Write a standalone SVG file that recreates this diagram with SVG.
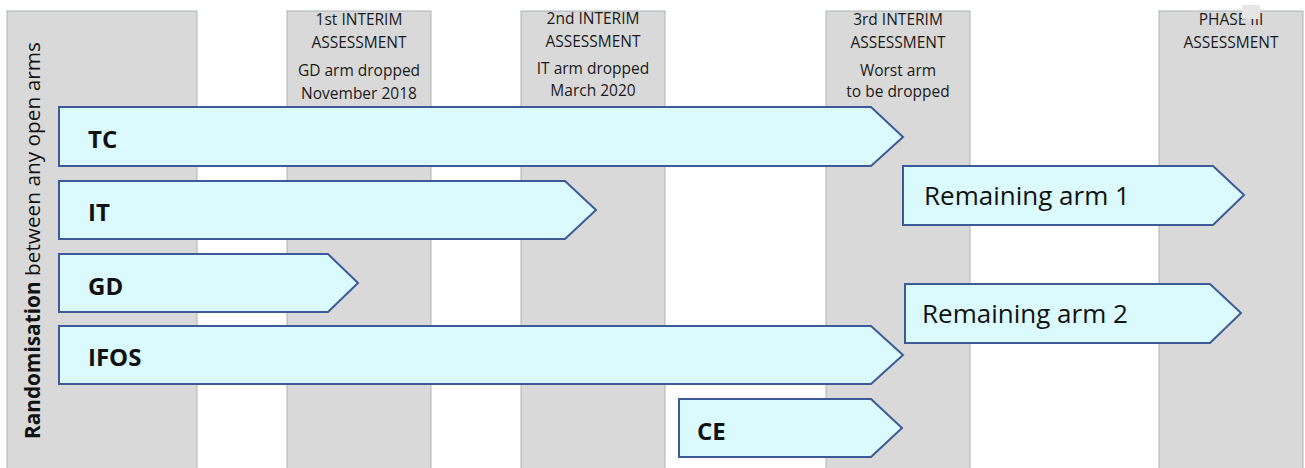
<svg xmlns="http://www.w3.org/2000/svg" width="1305" height="468" viewBox="0 0 1305 468">
<style>
.col{fill:#d9d9d9;stroke:#a9b4b8;stroke-width:1}
.arm{fill:#dbfafd;stroke:#3d5a96;stroke-width:2;stroke-linejoin:miter}
.hd{font-family:"Open Sans","Liberation Sans",sans-serif;font-size:15.5px;fill:#1a1a1a;text-anchor:middle}
.lb{font-family:"Open Sans","Liberation Sans",sans-serif;font-size:24px;font-weight:bold;fill:#111}
.lr{font-family:"Open Sans","Liberation Sans",sans-serif;font-size:26px;fill:#111}
.vt{font-family:"Open Sans","Liberation Sans",sans-serif;font-size:20.8px;fill:#111}
</style>
<rect width="1305" height="468" fill="#ffffff"/>
<g id="columns">
<rect class="col" x="7" y="11" width="190" height="462"/>
<rect class="col" x="287" y="11" width="144" height="462"/>
<rect class="col" x="521" y="11" width="144" height="462"/>
<rect class="col" x="826" y="11" width="144" height="462"/>
<rect class="col" x="1159" y="11" width="144" height="462"/>
</g>
<g id="headers">
<text class="hd" x="359" y="25">1st INTERIM</text>
<text class="hd" x="359" y="48">ASSESSMENT</text>
<text class="hd" x="359" y="76">GD arm dropped</text>
<text class="hd" x="359" y="99">November 2018</text>
<text class="hd" x="593" y="24">2nd INTERIM</text>
<text class="hd" x="593" y="47">ASSESSMENT</text>
<text class="hd" x="593" y="74">IT arm dropped</text>
<text class="hd" x="593" y="96">March 2020</text>
<text class="hd" x="898" y="25">3rd INTERIM</text>
<text class="hd" x="898" y="48">ASSESSMENT</text>
<text class="hd" x="898" y="76">Worst arm</text>
<text class="hd" x="898" y="97">to be dropped</text>
<text class="hd" x="1231" y="25">PHASE III</text>
<text class="hd" x="1231" y="48">ASSESSMENT</text>
<rect x="1242" y="5" width="18" height="14" fill="#e6e6e6"/>
</g>
<g id="side-label">
<text class="vt" transform="translate(40,439) rotate(-90)"><tspan font-weight="bold">Randomisation</tspan> between any open arms</text>
</g>
<g id="connectors"></g>
<g id="arm-TC">
<polygon class="arm" points="59,107 871,107 903,137 871,166 59,166"/>
<text class="lb" x="88" y="148">TC</text>
</g>
<g id="arm-IT">
<polygon class="arm" points="59,181 565,181 596,210 565,239 59,239"/>
<text class="lb" x="88" y="221">IT</text>
</g>
<g id="arm-GD">
<polygon class="arm" points="59,254 328,254 358,283 328,312 59,312"/>
<text class="lb" x="88" y="295">GD</text>
</g>
<g id="arm-IFOS">
<polygon class="arm" points="59,326 871,326 903,355 871,384 59,384"/>
<text class="lb" x="88" y="366">IFOS</text>
</g>
<g id="arm-CE">
<polygon class="arm" points="679,399 871,399 902,428 871,457 679,457"/>
<text class="lb" x="697" y="440">CE</text>
</g>
<g id="arm-R1">
<polygon class="arm" points="903,166 1213,166 1244,195 1213,225 903,225"/>
<text class="lr" x="924" y="205">Remaining arm 1</text>
</g>
<g id="arm-R2">
<polygon class="arm" points="905,284 1210,284 1241,313 1210,343 905,343"/>
<text class="lr" x="922" y="323">Remaining arm 2</text>
</g>
</svg>
